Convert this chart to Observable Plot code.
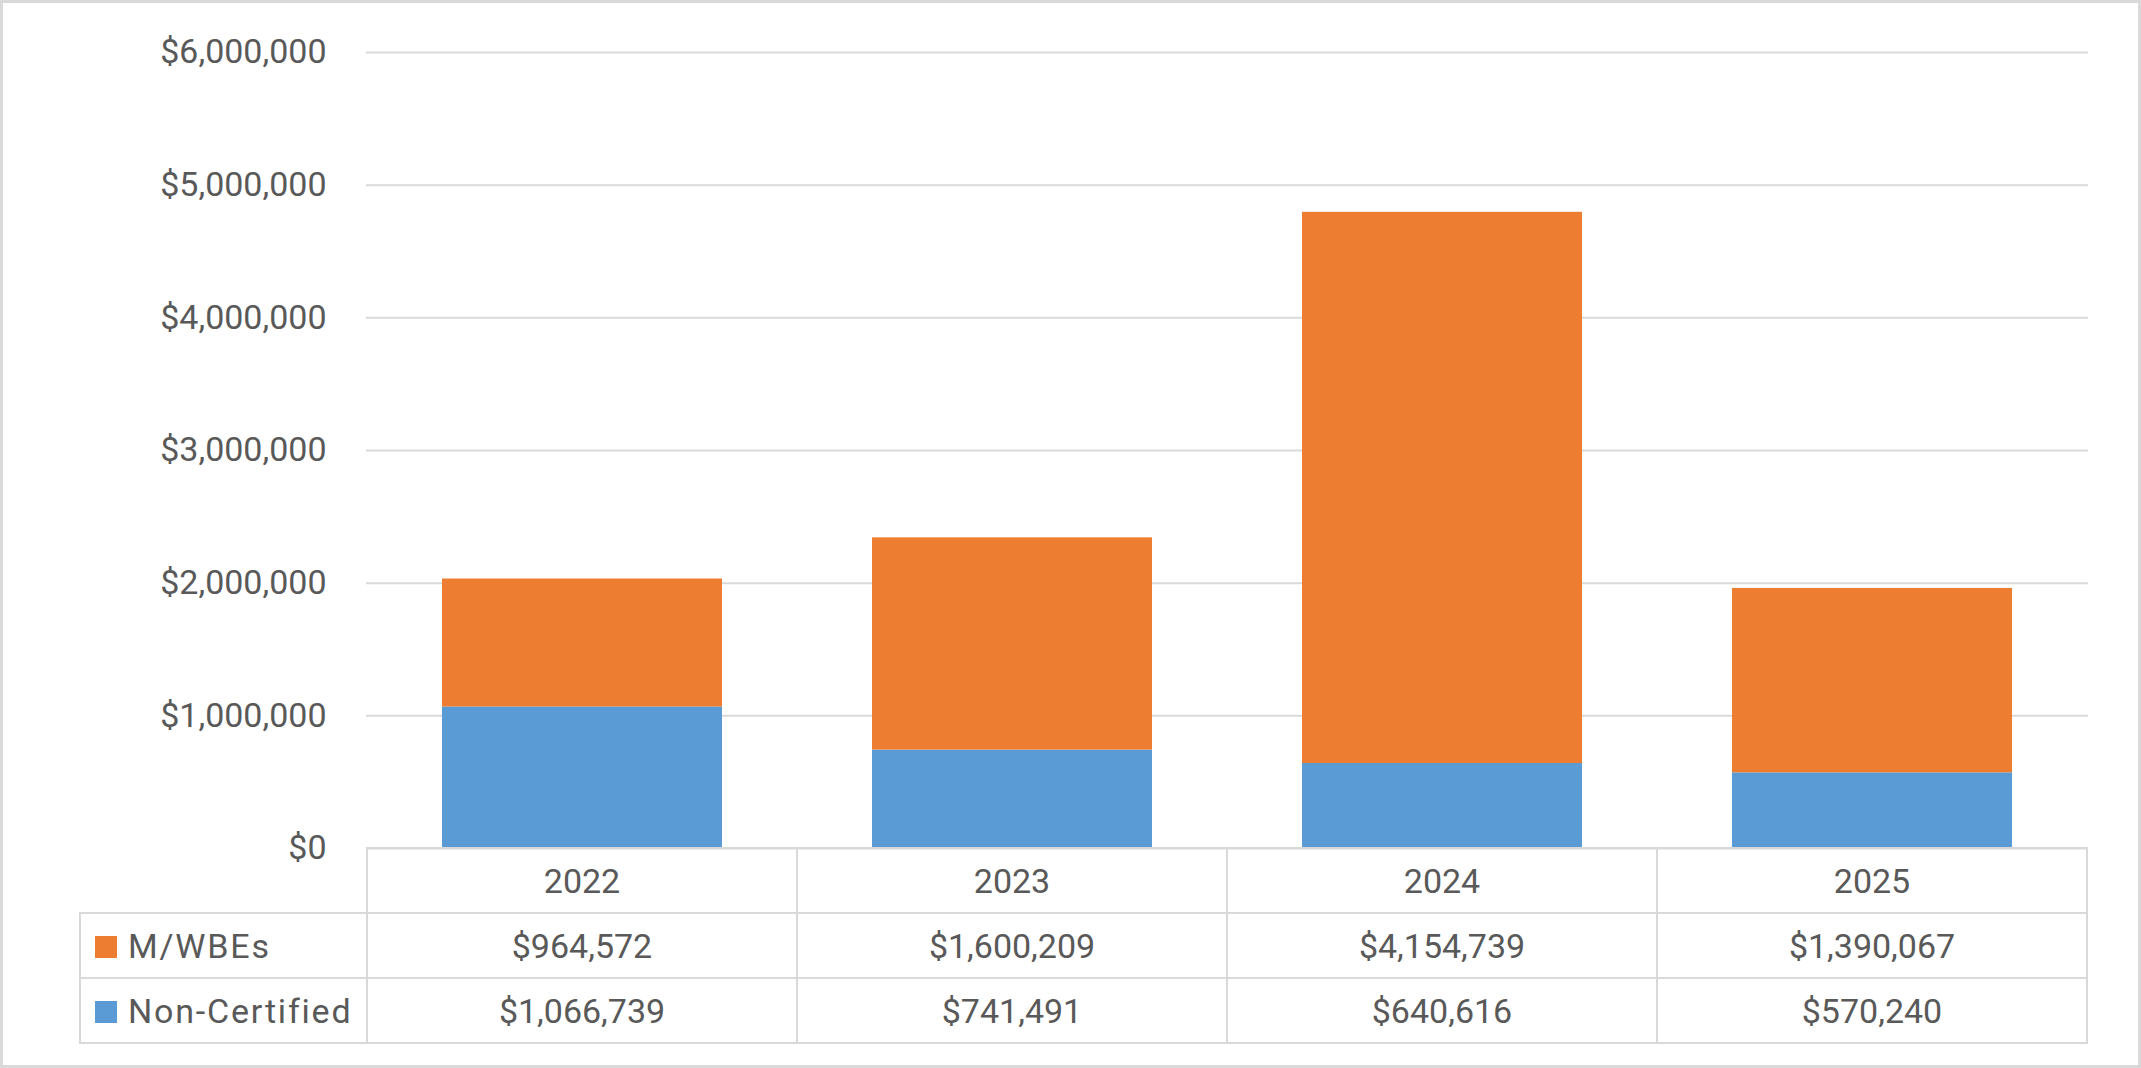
<!DOCTYPE html>
<html><head><meta charset="utf-8">
<script src="https://cdn.jsdelivr.net/npm/d3@7"></script>
<script src="https://cdn.jsdelivr.net/npm/@observablehq/plot@0.6"></script>
<style>
html,body{margin:0;padding:0;background:#fff;}
#wrap{position:relative;width:2141px;height:1068px;overflow:hidden;font-family:Roboto, sans-serif;color:#595959;background:#fff;}
#frame{position:absolute;left:0;top:0;width:2141px;height:1068px;box-sizing:border-box;border:3px solid #d9d9d9;pointer-events:none;}
#tbl{position:absolute;border-collapse:collapse;font-size:34px;table-layout:fixed;}
#tbl td{border:2px solid #d9d9d9;text-align:center;padding:0;height:63px;white-space:nowrap;}
#tbl td.blank{border:none;}
#tbl td.leg{text-align:left;letter-spacing:1.8px;}
.sw{display:inline-block;width:22px;height:22px;margin-left:14px;margin-right:11px;vertical-align:middle;position:relative;top:-2px;}
</style></head><body><div id="wrap"></div>
<script>
const years = ["2022", "2023", "2024", "2025"];
const seriesNames = ["Non-Certified", "M/WBEs"];
const nonCertified = [1066739, 741491, 640616, 570240];
const mwbes = [964572, 1600209, 4154739, 1390067];
const yTicks = [0, 1000000, 2000000, 3000000, 4000000, 5000000, 6000000];
const seriesColors = ["#5B9BD5", "#ED7D31"];

const valuesBySeries = {"Non-Certified": nonCertified, "M/WBEs": mwbes};
const data = [];
for (const s of seriesNames) years.forEach((y, i) => data.push({year: y, series: s, value: valuesBySeries[s][i]}));

const fmt = d3.format("$,");
const W = 2141, H = 1068;

const chart = Plot.plot({
  width: W, height: H,
  marginTop: 52, marginBottom: 220, marginLeft: 366, marginRight: 53,
  x: {domain: years, paddingInner: 0.35, paddingOuter: 0.175, axis: null},
  y: {domain: [0, 6000000], label: null},
  color: {domain: seriesNames, range: seriesColors},
  style: {fontFamily: "Roboto, sans-serif", fontSize: "34px", color: "#595959", background: "transparent", overflow: "visible"},
  marks: [
    Plot.gridY(yTicks, {stroke: "#d9d9d9", strokeOpacity: 1, strokeWidth: 2}),
    Plot.barY(data, {x: "year", y: "value", fill: "series"}),
    Plot.axisY(yTicks, {tickSize: 0, tickPadding: 0, dx: -40, label: null, tickFormat: fmt, fontSize: 34, fill: "#595959"})
  ]
});
const wrap = document.getElementById("wrap");
wrap.appendChild(chart);

// data table (legend + values) aligned to the x band scale
const xs = chart.scale("x");
const step = xs.step;
const x0 = xs.range[0];
const left = 79;
const tbl = document.createElement("table");
tbl.id = "tbl";
tbl.style.left = left + "px";
tbl.style.top = (chart.scale("y").apply(0) - 1) + "px";
const cg = document.createElement("colgroup");
const c0 = document.createElement("col"); c0.style.width = (x0 - left) + "px"; cg.appendChild(c0);
years.forEach(() => { const c = document.createElement("col"); c.style.width = step + "px"; cg.appendChild(c); });
tbl.appendChild(cg);
const hr = document.createElement("tr");
const blank = document.createElement("td"); blank.className = "blank"; hr.appendChild(blank);
years.forEach(y => { const td = document.createElement("td"); td.textContent = y; hr.appendChild(td); });
tbl.appendChild(hr);
for (const s of ["M/WBEs", "Non-Certified"]) {
  const tr = document.createElement("tr");
  const lg = document.createElement("td"); lg.className = "leg";
  const sw = document.createElement("span"); sw.className = "sw"; sw.style.background = chart.scale("color").apply(s);
  lg.appendChild(sw); lg.appendChild(document.createTextNode(s));
  tr.appendChild(lg);
  valuesBySeries[s].forEach(v => { const td = document.createElement("td"); td.textContent = fmt(v); tr.appendChild(td); });
  tbl.appendChild(tr);
}
wrap.appendChild(tbl);
const frame = document.createElement("div"); frame.id = "frame"; wrap.appendChild(frame);
</script></body></html>
